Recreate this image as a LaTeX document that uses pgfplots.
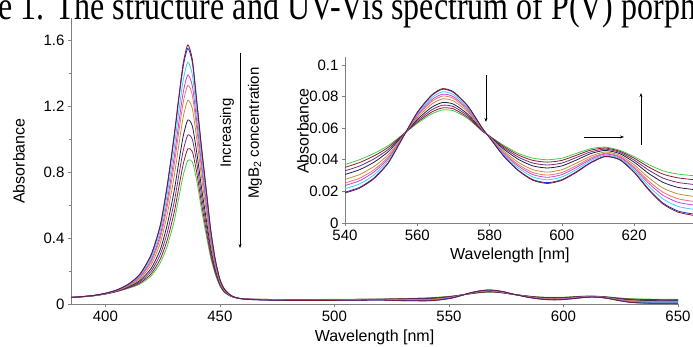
\documentclass[border=0pt]{standalone}
\usepackage{fontspec}
\setmainfont{Liberation Sans}
\newfontfamily\titlefont{Liberation Serif}
\usepackage{graphicx}
\usepackage{pgfplots}
\usepackage{pgfplotstable}
\pgfplotsset{compat=1.18}
\usetikzlibrary{arrows.meta}

\definecolor{s0}{HTML}{7A1830}
\definecolor{s1}{HTML}{2A2ACF}
\definecolor{s2}{HTML}{3FCFE8}
\definecolor{s3}{HTML}{D040D8}
\definecolor{s4}{HTML}{F07070}
\definecolor{s5}{HTML}{C09038}
\definecolor{s6}{HTML}{1E2050}
\definecolor{s7}{HTML}{782C80}
\definecolor{s8}{HTML}{8A1E30}
\definecolor{s9}{HTML}{40D040}
\definecolor{axgray}{HTML}{808080}

\pgfplotstableread{
x c0 c1 c2 c3 c4 c5 c6 c7 c8 c9
385 0.040 0.040 0.040 0.040 0.040 0.040 0.040 0.040 0.040 0.040
390 0.045 0.045 0.045 0.045 0.045 0.045 0.044 0.044 0.044 0.044
395 0.052 0.052 0.052 0.051 0.051 0.051 0.051 0.050 0.050 0.050
400 0.065 0.065 0.064 0.064 0.063 0.063 0.062 0.061 0.061 0.060
405 0.085 0.085 0.084 0.082 0.082 0.080 0.079 0.077 0.076 0.075
410 0.120 0.119 0.116 0.114 0.111 0.108 0.104 0.101 0.098 0.095
415 0.180 0.178 0.171 0.164 0.159 0.151 0.141 0.133 0.126 0.120
420 0.300 0.296 0.281 0.266 0.255 0.238 0.216 0.199 0.183 0.170
424 0.480 0.473 0.446 0.420 0.400 0.370 0.331 0.301 0.273 0.250
427 0.720 0.709 0.665 0.624 0.591 0.542 0.480 0.431 0.387 0.350
430 1.020 1.004 0.942 0.885 0.838 0.770 0.682 0.614 0.552 0.500
432 1.250 1.232 1.159 1.091 1.037 0.957 0.854 0.774 0.701 0.640
434 1.460 1.440 1.358 1.283 1.222 1.134 1.018 0.930 0.848 0.780
436 1.570 1.549 1.465 1.388 1.325 1.234 1.115 1.024 0.940 0.870
438 1.480 1.461 1.387 1.319 1.263 1.182 1.077 0.996 0.922 0.860
440 1.220 1.206 1.148 1.095 1.052 0.990 0.908 0.846 0.788 0.740
442 0.950 0.939 0.893 0.851 0.817 0.768 0.703 0.654 0.608 0.570
444 0.700 0.692 0.658 0.627 0.602 0.566 0.518 0.482 0.448 0.420
446 0.450 0.445 0.425 0.406 0.391 0.368 0.340 0.317 0.297 0.280
448 0.270 0.267 0.257 0.247 0.239 0.227 0.212 0.200 0.189 0.180
450 0.150 0.149 0.144 0.140 0.136 0.131 0.124 0.119 0.114 0.110
452 0.090 0.089 0.087 0.085 0.083 0.080 0.077 0.074 0.072 0.070
455 0.050 0.050 0.049 0.049 0.048 0.048 0.047 0.046 0.046 0.045
458 0.035 0.035 0.035 0.035 0.035 0.035 0.035 0.035 0.035 0.035
462 0.028 0.028 0.028 0.029 0.029 0.029 0.029 0.030 0.030 0.030
470 0.024 0.024 0.025 0.025 0.025 0.026 0.027 0.027 0.028 0.028
480 0.022 0.022 0.023 0.023 0.024 0.024 0.025 0.026 0.027 0.027
500 0.022 0.022 0.023 0.024 0.024 0.025 0.026 0.027 0.027 0.028
520 0.024 0.024 0.025 0.026 0.026 0.027 0.028 0.029 0.029 0.030
530 0.0200 0.0204 0.0220 0.0234 0.0246 0.0262 0.0285 0.0301 0.0317 0.0330
540 0.0190 0.0195 0.0217 0.0237 0.0253 0.0276 0.0307 0.0330 0.0352 0.0370
544 0.0220 0.0225 0.0247 0.0267 0.0283 0.0306 0.0337 0.0360 0.0382 0.0400
548 0.0280 0.0285 0.0304 0.0322 0.0336 0.0357 0.0384 0.0405 0.0424 0.0440
552 0.0380 0.0383 0.0397 0.0409 0.0419 0.0433 0.0452 0.0466 0.0479 0.0490
556 0.0540 0.0541 0.0543 0.0545 0.0547 0.0550 0.0553 0.0556 0.0558 0.0560
560 0.0700 0.0698 0.0690 0.0682 0.0676 0.0666 0.0655 0.0645 0.0637 0.0630
564 0.0810 0.0806 0.0792 0.0779 0.0768 0.0752 0.0732 0.0716 0.0702 0.0690
567 0.0850 0.0846 0.0830 0.0815 0.0803 0.0785 0.0762 0.0745 0.0728 0.0715
570 0.0830 0.0826 0.0812 0.0799 0.0788 0.0772 0.0752 0.0736 0.0722 0.0710
574 0.0740 0.0738 0.0728 0.0719 0.0712 0.0702 0.0688 0.0678 0.0668 0.0660
578 0.0600 0.0599 0.0597 0.0595 0.0593 0.0590 0.0587 0.0584 0.0582 0.0580
580 0.0540 0.0540 0.0542 0.0543 0.0544 0.0545 0.0547 0.0548 0.0549 0.0550
584 0.0420 0.0422 0.0431 0.0438 0.0445 0.0454 0.0466 0.0475 0.0483 0.0490
588 0.0330 0.0333 0.0347 0.0359 0.0369 0.0383 0.0402 0.0416 0.0429 0.0440
592 0.0270 0.0274 0.0291 0.0306 0.0319 0.0337 0.0361 0.0379 0.0396 0.0410
596 0.0250 0.0255 0.0273 0.0289 0.0303 0.0322 0.0348 0.0367 0.0385 0.0400
600 0.0270 0.0274 0.0291 0.0306 0.0319 0.0337 0.0361 0.0379 0.0396 0.0410
604 0.0320 0.0324 0.0338 0.0351 0.0362 0.0378 0.0398 0.0414 0.0428 0.0440
608 0.0380 0.0383 0.0394 0.0403 0.0412 0.0423 0.0439 0.0450 0.0461 0.0470
612 0.0420 0.0422 0.0429 0.0436 0.0441 0.0449 0.0459 0.0467 0.0474 0.0480
616 0.0400 0.0402 0.0409 0.0416 0.0421 0.0429 0.0439 0.0447 0.0454 0.0460
620 0.0320 0.0323 0.0335 0.0346 0.0355 0.0368 0.0385 0.0398 0.0410 0.0420
624 0.0210 0.0215 0.0234 0.0252 0.0266 0.0287 0.0314 0.0335 0.0354 0.0370
628 0.0120 0.0126 0.0152 0.0175 0.0194 0.0221 0.0257 0.0284 0.0309 0.0330
632 0.0070 0.0077 0.0106 0.0132 0.0154 0.0185 0.0226 0.0257 0.0286 0.0310
636 0.0050 0.0058 0.0088 0.0115 0.0138 0.0170 0.0213 0.0245 0.0275 0.0300
640 0.0040 0.0048 0.0078 0.0105 0.0128 0.0160 0.0203 0.0235 0.0265 0.0290
650 0.0040 0.0047 0.0076 0.0102 0.0124 0.0155 0.0196 0.0227 0.0256 0.0280
}\spectra

\pgfplotsset{
  specstyle/.style={
    axis x line=bottom, axis y line=left,
    axis line style={-, axgray, line width=0.8pt},
    tick align=outside, major tick length=3pt, minor tick length=2pt,
    tick style={axgray, line width=0.6pt},
    tick label style={font=\fontsize{15}{17}\selectfont},
    label style={font=\fontsize{16}{18}\selectfont},
    /pgf/number format/assume math mode=true,
    /pgf/number format/fixed,
    scale only axis,
    every axis plot/.append style={line width=0.8pt, smooth, tension=0.4},
  }
}

\begin{document}
\begin{tikzpicture}
\useasboundingbox (0pt,0pt) rectangle (693pt,347pt);
\clip (0pt,0pt) rectangle (693pt,347pt);
\node[anchor=base west, inner sep=0pt, font=\titlefont\fontsize{32}{36}\selectfont] at (-2pt,327pt) {\scalebox{1}[1.25]{e 1. The structure and UV-Vis spectrum of P(V) porph}};

\begin{axis}[specstyle,
  at={(71pt,43pt)}, anchor=south west,
  width=607pt, height=286pt,
  xmin=385, xmax=650, ymin=0, ymax=1.733,
  xtick={400,450,500,550,600,650},
  ytick={0,0.4,0.8,1.2,1.6},
  minor y tick num=1,
  yticklabel style={/pgf/number format/precision=1},
  xlabel={Wavelength [nm]}, ylabel={Absorbance},
  xlabel style={at={(axis description cs:0.5,-0.1154)}, anchor=center},
  ylabel style={at={(axis description cs:-0.0857,0.5)}, anchor=center},
]
\addplot[s9] table[x=x,y=c9]{\spectra};
\addplot[s8] table[x=x,y=c8]{\spectra};
\addplot[s7] table[x=x,y=c7]{\spectra};
\addplot[s6] table[x=x,y=c6]{\spectra};
\addplot[s5] table[x=x,y=c5]{\spectra};
\addplot[s4] table[x=x,y=c4]{\spectra};
\addplot[s3] table[x=x,y=c3]{\spectra};
\addplot[s2] table[x=x,y=c2]{\spectra};
\addplot[s1] table[x=x,y=c1]{\spectra};
\addplot[s0] table[x=x,y=c0]{\spectra};
\draw[-{Stealth[length=4pt,width=3pt]}, line width=0.6pt] (axis cs:458.8,1.521) -- (axis cs:458.8,0.339);
\node[rotate=90, font=\fontsize{15}{17}\selectfont] at (axis cs:453.1,1.036) {Increasing};
\node[rotate=90, font=\fontsize{15}{17}\selectfont] at (axis cs:465.3,1.036) {MgB\textsubscript{2} concentration};
\end{axis}

\begin{axis}[specstyle,
  at={(345pt,124pt)}, anchor=south west,
  width=348pt, height=166pt,
  xmin=540, xmax=636.3, ymin=0, ymax=0.105,
  xtick={540,560,580,600,620},
  ytick={0,0.02,0.04,0.06,0.08,0.1},
  yticklabel style={/pgf/number format/precision=2},
  xlabel={Wavelength [nm]}, ylabel={Absorbance},
  xlabel style={at={(axis description cs:0.474,-0.193)}, anchor=center},
  ylabel style={at={(axis description cs:-0.1207,0.554)}, anchor=center},
  every axis plot/.append style={restrict x to domain=536:642},
]
\addplot[s9] table[x=x,y=c9]{\spectra};
\addplot[s8] table[x=x,y=c8]{\spectra};
\addplot[s7] table[x=x,y=c7]{\spectra};
\addplot[s6] table[x=x,y=c6]{\spectra};
\addplot[s5] table[x=x,y=c5]{\spectra};
\addplot[s4] table[x=x,y=c4]{\spectra};
\addplot[s3] table[x=x,y=c3]{\spectra};
\addplot[s2] table[x=x,y=c2]{\spectra};
\addplot[s1] table[x=x,y=c1]{\spectra};
\addplot[s0] table[x=x,y=c0]{\spectra};
\draw[-{Stealth[length=4pt,width=3pt]}, line width=0.6pt] (axis cs:579.0,0.0936) -- (axis cs:579.0,0.0639);
\draw[-{Stealth[length=4pt,width=3pt]}, line width=0.6pt] (axis cs:606.2,0.0544) -- (axis cs:617.2,0.0544);
\draw[-{Stealth[length=4pt,width=3pt]}, line width=0.6pt] (axis cs:621.9,0.0493) -- (axis cs:621.9,0.0822);
\end{axis}
\end{tikzpicture}
\end{document}
